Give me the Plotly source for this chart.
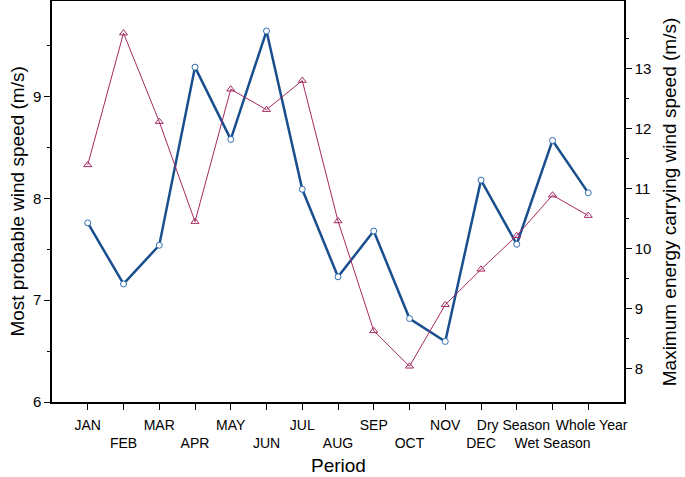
import plotly.graph_objects as go

periods = ["JAN", "FEB", "MAR", "APR", "MAY", "JUN", "JUL", "AUG", "SEP", "OCT",
           "NOV", "DEC", "Dry Season", "Wet Season", "Whole Year"]
most_probable = [7.76, 7.16, 7.54, 9.29, 8.58, 9.645, 8.09, 7.23, 7.68, 6.82,
                 6.595, 8.18, 7.55, 8.57, 8.055]
max_energy = [11.40, 13.595, 12.12, 10.455, 12.66, 12.32, 12.805, 10.465, 8.635, 8.045,
              9.07, 9.66, 10.22, 10.895, 10.555]
left_ticks = [6, 7, 8, 9]
right_ticks = [8, 9, 10, 11, 12, 13]

x_idx = list(range(len(periods)))
ticktext = []
for i, p in enumerate(periods):
    if p == "Dry Season":
        p = p + "\u00a0\u2009"
    elif p == "Whole Year":
        p = "\u2009\u00a0" + p
    ticktext.append(p if i % 2 == 0 else "<br>" + p)

BLUE = "#1a4f8e"
RED = "#a52a62"
FONT = "Liberation Sans, Arial, sans-serif"

fig = go.Figure()
fig.add_trace(go.Scatter(
    x=x_idx, y=max_energy, yaxis="y2", mode="lines+markers",
    line=dict(color=RED, width=1),
    marker=dict(symbol="triangle-up-open", size=7, color=RED, line=dict(width=1)),
    showlegend=False))
fig.add_trace(go.Scatter(
    x=x_idx, y=most_probable, mode="lines+markers",
    line=dict(color=BLUE, width=2.5),
    marker=dict(symbol="circle", size=6, color="white",
                line=dict(color="#2f6fb0", width=1)),
    showlegend=False))

fig.update_layout(
    width=685, height=477,
    margin=dict(l=52, r=61, t=1, b=75, autoexpand=False),
    plot_bgcolor="white", paper_bgcolor="white",
    font=dict(family=FONT, size=14, color="black"),
    xaxis=dict(
        range=[-1, 15], tickmode="array", tickvals=x_idx, ticktext=ticktext,
        tickangle=0, automargin=False, ticklabelstandoff=3,
        showline=True, linecolor="black", linewidth=1.5, mirror=True,
        ticks="outside", ticklen=6, tickcolor="black", showgrid=False, zeroline=False,
        tickfont=dict(size=14)),
    yaxis=dict(
        range=[6, 9.94], tickmode="array", tickvals=left_ticks, automargin=False,
        showline=True, linecolor="black", linewidth=1.5,
        ticks="outside", ticklen=6, tickcolor="black", showgrid=False, zeroline=False,
        tickfont=dict(size=15),
        minor=dict(tickmode="array", tickvals=[6.5, 7.5, 8.5, 9.5],
                   ticks="outside", ticklen=3, tickcolor="black")),
    yaxis2=dict(
        range=[7.45, 14.13], tickmode="array", tickvals=right_ticks, automargin=False,
        overlaying="y", side="right",
        showline=True, linecolor="black", linewidth=1.5,
        ticks="outside", ticklen=6, tickcolor="black", showgrid=False, zeroline=False,
        tickfont=dict(size=15),
        minor=dict(tickmode="array", tickvals=[8.5, 9.5, 10.5, 11.5, 12.5, 13.5],
                   ticks="outside", ticklen=3, tickcolor="black")),
    annotations=[
        dict(text="Period", xref="paper", yref="paper", x=0.5, y=-0.158,
             xanchor="center", yanchor="middle", showarrow=False,
             font=dict(size=19)),
        dict(text="Most probable wind speed (m/s)", xref="paper", yref="paper",
             x=-0.061, y=0.5, xanchor="center", yanchor="middle", textangle=-90,
             showarrow=False, font=dict(size=19)),
        dict(text="Maximum energy carrying wind speed (m/s)", xref="paper", yref="paper",
             x=1.08, y=0.5, xanchor="center", yanchor="middle", textangle=-90,
             showarrow=False, font=dict(size=19)),
    ],
)

fig.write_html("out.html", config={"displayModeBar": False},
               post_script="document.body.style.margin='0';")
